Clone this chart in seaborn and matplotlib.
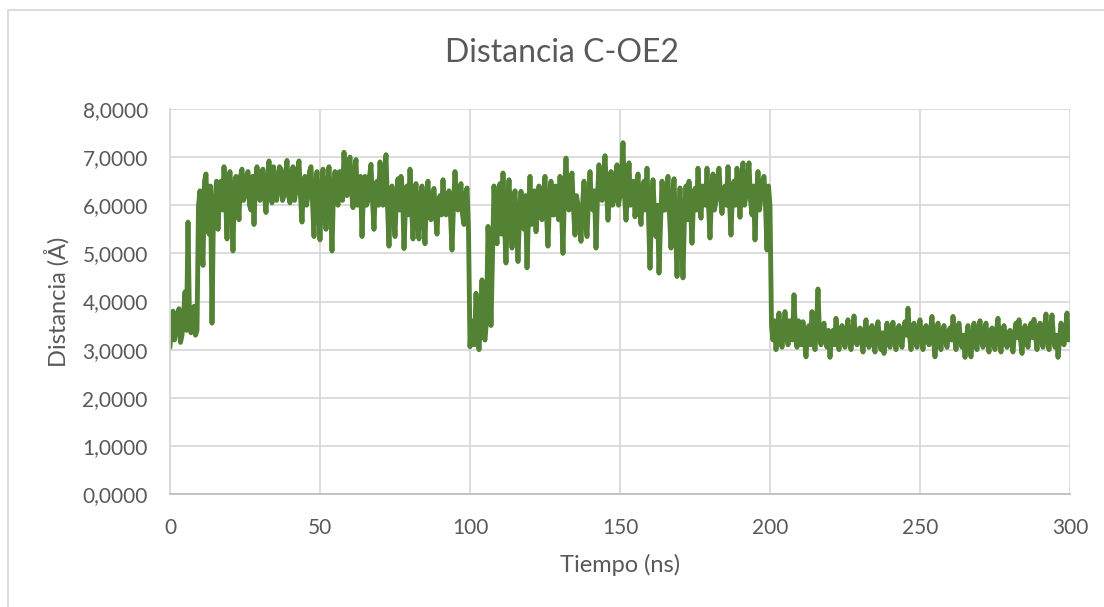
import numpy as np
import pandas as pd
import matplotlib
matplotlib.use("Agg")
import matplotlib.pyplot as plt
import seaborn as sns

# Distance C-OE2 along the trajectory, sampled every 0.5 ns (0..300 ns).
# distancia_entero holds the samples at whole ns, distancia_medio those at n + 0.5 ns.
distancia_entero = [
    # 0-9
    3.05, 3.80, 3.35, 3.85, 3.30, 4.20, 5.65, 3.35, 3.90, 3.40,
    # 10-19
    6.30, 4.75, 6.65, 5.40, 3.55, 6.10, 5.50, 6.50, 6.80, 5.30,
    # 20-29
    6.70, 5.05, 6.60, 5.70, 6.75, 6.20, 6.70, 5.90, 5.60, 6.80,
    # 30-39
    6.10, 6.75, 5.85, 6.92, 6.05, 6.60, 6.30, 6.75, 6.20, 6.93,
    # 40-49
    6.05, 6.80, 6.30, 6.92, 5.65, 6.60, 6.20, 6.80, 5.35, 6.70,
    # 50-59
    5.28, 6.75, 5.50, 6.80, 5.05, 6.70, 6.00, 6.60, 7.10, 6.20,
    # 60-69
    7.00, 5.95, 6.95, 6.20, 5.35, 6.60, 6.10, 6.85, 5.50, 6.50,
    # 70-79
    6.90, 6.00, 7.05, 5.15, 6.40, 5.35, 6.55, 6.60, 5.10, 6.40,
    # 80-89
    6.75, 5.30, 6.45, 5.30, 6.40, 5.20, 6.50, 5.70, 6.35, 5.40,
    # 90-99
    6.20, 6.53, 5.80, 6.30, 5.07, 6.70, 5.90, 6.45, 5.60, 6.36,
    # 100-109
    3.06, 3.35, 4.17, 3.00, 4.45, 3.20, 5.56, 3.50, 6.40, 5.20,
    # 110-119
    6.45, 6.67, 4.80, 6.53, 5.11, 6.30, 4.83, 6.29, 5.50, 4.70,
    # 120-129
    6.60, 5.90, 5.45, 6.40, 5.70, 6.60, 5.15, 6.50, 5.80, 6.30,
    # 130-139
    6.60, 5.00, 6.98, 5.90, 6.67, 5.38, 6.00, 5.25, 6.50, 5.35,
    # 140-149
    6.70, 5.90, 5.11, 6.84, 6.10, 7.03, 5.69, 6.70, 6.10, 6.84,
    # 150-159
    6.20, 7.30, 5.69, 6.88, 6.30, 5.76, 6.65, 5.60, 6.50, 6.77,
    # 160-169
    4.69, 6.53, 5.35, 4.59, 6.50, 5.90, 6.60, 5.11, 6.55, 4.52,
    # 170-179
    6.36, 4.49, 6.40, 6.50, 5.21, 6.35, 6.77, 5.73, 6.30, 6.77,
    # 180-189
    5.32, 6.65, 6.10, 6.77, 5.83, 6.40, 6.80, 5.38, 6.50, 6.77,
    # 190-199
    5.75, 6.88, 6.20, 6.88, 5.80, 5.28, 6.70, 6.20, 6.60, 5.07,
    # 200-209
    5.98, 3.20, 3.00, 3.76, 3.05, 3.79, 3.10, 3.50, 4.14, 3.05,
    # 210-219
    3.45, 3.58, 2.85, 3.50, 3.79, 3.00, 4.26, 3.10, 3.55, 3.05,
    # 220-229
    2.84, 3.40, 3.65, 3.00, 3.50, 3.05, 3.62, 3.00, 3.70, 3.10,
    # 230-239
    3.45, 2.95, 3.62, 3.05, 3.50, 2.95, 3.58, 3.00, 2.92, 3.55,
    # 240-249
    3.05, 3.57, 3.00, 3.50, 3.05, 3.58, 3.86, 3.00, 3.55, 3.05,
    # 250-259
    3.62, 3.00, 3.50, 3.10, 3.69, 2.85, 3.55, 3.00, 3.50, 3.05,
    # 260-269
    3.45, 3.69, 3.00, 3.55, 3.05, 2.84, 3.50, 2.85, 3.55, 3.00,
    # 270-279
    3.60, 3.05, 3.55, 2.95, 3.45, 3.00, 3.65, 2.95, 3.50, 3.05,
    # 280-289
    3.40, 2.95, 3.55, 3.62, 2.92, 3.50, 3.05, 3.55, 3.63, 3.00,
    # 290-300
    3.55, 3.05, 3.74, 3.00, 3.72, 3.05, 2.84, 3.55, 3.10, 3.76, 3.30,
]

distancia_medio = [
    # 0.5-9.5
    3.60, 3.20, 3.75, 3.15, 3.70, 3.40, 3.60, 3.70, 3.30, 6.00,
    # 10.5-19.5
    5.20, 6.50, 5.80, 6.40, 5.90, 6.50, 6.30, 5.90, 6.20, 6.50,
    # 20.5-29.5
    6.10, 6.40, 6.10, 6.60, 6.10, 6.60, 6.00, 6.60, 6.50, 6.20,
    # 30.5-39.5
    6.70, 6.20, 6.50, 6.30, 6.80, 6.10, 6.80, 6.10, 6.60, 6.20,
    # 40.5-49.5
    6.70, 6.10, 6.70, 6.20, 6.50, 6.00, 6.70, 6.10, 6.30, 6.00,
    # 50.5-59.5
    6.30, 6.00, 6.40, 6.10, 6.30, 6.20, 6.70, 6.10, 6.40, 6.80,
    # 60.5-69.5
    6.30, 6.70, 6.00, 6.60, 6.30, 6.00, 6.60, 6.10, 6.40, 6.00,
    # 70.5-79.5
    6.30, 6.60, 6.00, 6.30, 5.90, 6.20, 5.90, 6.30, 6.00, 5.80,
    # 80.5-89.5
    6.00, 6.10, 5.70, 6.20, 5.80, 6.20, 5.80, 6.20, 5.80, 6.10,
    # 90.5-99.5
    5.80, 5.90, 6.20, 5.80, 6.00, 6.10, 6.30, 5.80, 6.20, 5.50,
    # 100.5-109.5
    3.60, 3.10, 3.40, 3.60, 3.30, 3.60, 4.80, 5.00, 5.60, 6.20,
    # 110.5-119.5
    5.40, 5.60, 6.00, 5.80, 6.00, 5.60, 5.80, 5.60, 6.20, 5.80,
    # 120.5-129.5
    5.60, 6.30, 6.00, 5.80, 6.20, 5.80, 6.10, 5.80, 6.40, 5.70,
    # 130.5-139.5
    5.90, 6.30, 6.20, 6.40, 5.90, 6.20, 5.70, 6.00, 5.80, 6.10,
    # 140.5-149.5
    6.00, 6.30, 6.20, 6.20, 6.50, 6.30, 6.30, 6.00, 6.60, 6.00,
    # 150.5-159.5
    6.60, 6.20, 6.30, 6.00, 6.50, 6.20, 6.00, 6.30, 5.90, 5.80,
    # 160.5-169.5
    5.90, 5.80, 6.00, 5.60, 5.90, 6.30, 5.80, 6.00, 5.60, 5.50,
    # 170.5-179.5
    5.40, 5.80, 5.70, 6.00, 6.10, 5.90, 6.10, 6.40, 6.00, 6.00,
    # 180.5-189.5
    6.20, 5.90, 6.50, 6.20, 6.30, 6.00, 6.10, 6.30, 6.00, 6.30,
    # 190.5-199.5
    6.40, 6.00, 6.60, 6.10, 6.40, 6.20, 5.90, 6.50, 6.00, 6.40,
    # 200.5-209.5
    3.50, 3.60, 3.40, 3.30, 3.40, 3.40, 3.60, 3.20, 3.30, 3.60,
    # 210.5-219.5
    3.10, 3.20, 3.40, 3.10, 3.30, 3.50, 3.30, 3.40, 3.20, 3.40,
    # 220.5-229.5
    3.30, 3.10, 3.30, 3.40, 3.20, 3.40, 3.20, 3.30, 3.20, 3.40,
    # 230.5-239.5
    3.20, 3.35, 3.20, 3.40, 3.15, 3.40, 3.20, 3.35, 3.25, 3.20,
    # 240.5-249.5
    3.40, 3.20, 3.35, 3.20, 3.40, 3.30, 3.30, 3.35, 3.20, 3.40,
    # 250.5-259.5
    3.25, 3.40, 3.20, 3.40, 3.20, 3.30, 3.15, 3.40, 3.20, 3.35,
    # 260.5-269.5
    3.20, 3.30, 3.35, 3.20, 3.30, 3.25, 3.10, 3.30, 3.20, 3.40,
    # 270.5-279.5
    3.25, 3.40, 3.20, 3.35, 3.15, 3.40, 3.20, 3.30, 3.20, 3.35,
    # 280.5-289.5
    3.15, 3.35, 3.25, 3.20, 3.35, 3.20, 3.40, 3.25, 3.30, 3.40,
    # 290.5-299.5
    3.20, 3.45, 3.20, 3.40, 3.25, 3.30, 3.20, 3.25, 3.40, 3.20,
]

tiempo_entero = list(range(0, 301))
tiempo_medio = [t + 0.5 for t in range(0, 300)]

x_ticks = [0, 50, 100, 150, 200, 250, 300]
y_ticks = [0, 1, 2, 3, 4, 5, 6, 7, 8]
y_tick_labels = [f"{v},0000" for v in y_ticks]

df = pd.DataFrame({
    "Tiempo (ns)": tiempo_entero + tiempo_medio,
    "Distancia": distancia_entero + distancia_medio,
}).sort_values("Tiempo (ns)").reset_index(drop=True)

sns.set_theme(style="whitegrid")
plt.rcParams["font.family"] = ["Lato", "DejaVu Sans"]

text_color = "#595959"
grid_color = "#d9d9d9"
line_color = "#548235"

fig = plt.figure(figsize=(11.04, 6.07), dpi=100)
fig.patch.set_facecolor("white")
ax = fig.add_axes([170 / 1104, 1 - 494 / 607, 900 / 1104, 385 / 607])

sns.lineplot(data=df, x="Tiempo (ns)", y="Distancia", ax=ax,
             color=line_color, linewidth=3.5, solid_joinstyle="round",
             solid_capstyle="round", estimator=None, sort=True)

ax.set_xlim(0, 300)
ax.set_ylim(0, 8)
ax.set_xticks(x_ticks)
ax.set_xticklabels([str(t) for t in x_ticks])
ax.set_yticks(y_ticks)
ax.set_yticklabels(y_tick_labels)
ax.tick_params(axis="both", colors=text_color, labelsize=15, length=0)
ax.tick_params(axis="y", pad=16)
ax.tick_params(axis="x", pad=17)
ax.grid(True, color=grid_color, linewidth=1.3)
ax.set_axisbelow(True)
for side in ["top", "right"]:
    ax.spines[side].set_visible(False)
ax.spines["left"].set_color(grid_color)
ax.spines["bottom"].set_color("#bfbfbf")
ax.spines["left"].set_linewidth(1.3)
ax.spines["bottom"].set_linewidth(1.3)

ax.set_xlabel("Tiempo (ns)", color=text_color, fontsize=17, labelpad=12)
ax.set_ylabel("Distancia (Å)", color=text_color, fontsize=17, labelpad=9)
fig.text(562 / 1104, 1 - 53 / 607, "Distancia C-OE2", ha="center", va="center",
         color=text_color, fontsize=23)

# chart frame
frame = plt.Rectangle((8 / 1104, -0.05), 1.2, 1 - 10 / 607 + 0.05,
                      transform=fig.transFigure, fill=False,
                      edgecolor=grid_color, linewidth=1.3)
fig.add_artist(frame)

fig.savefig("out.png", dpi=100, facecolor="white")
